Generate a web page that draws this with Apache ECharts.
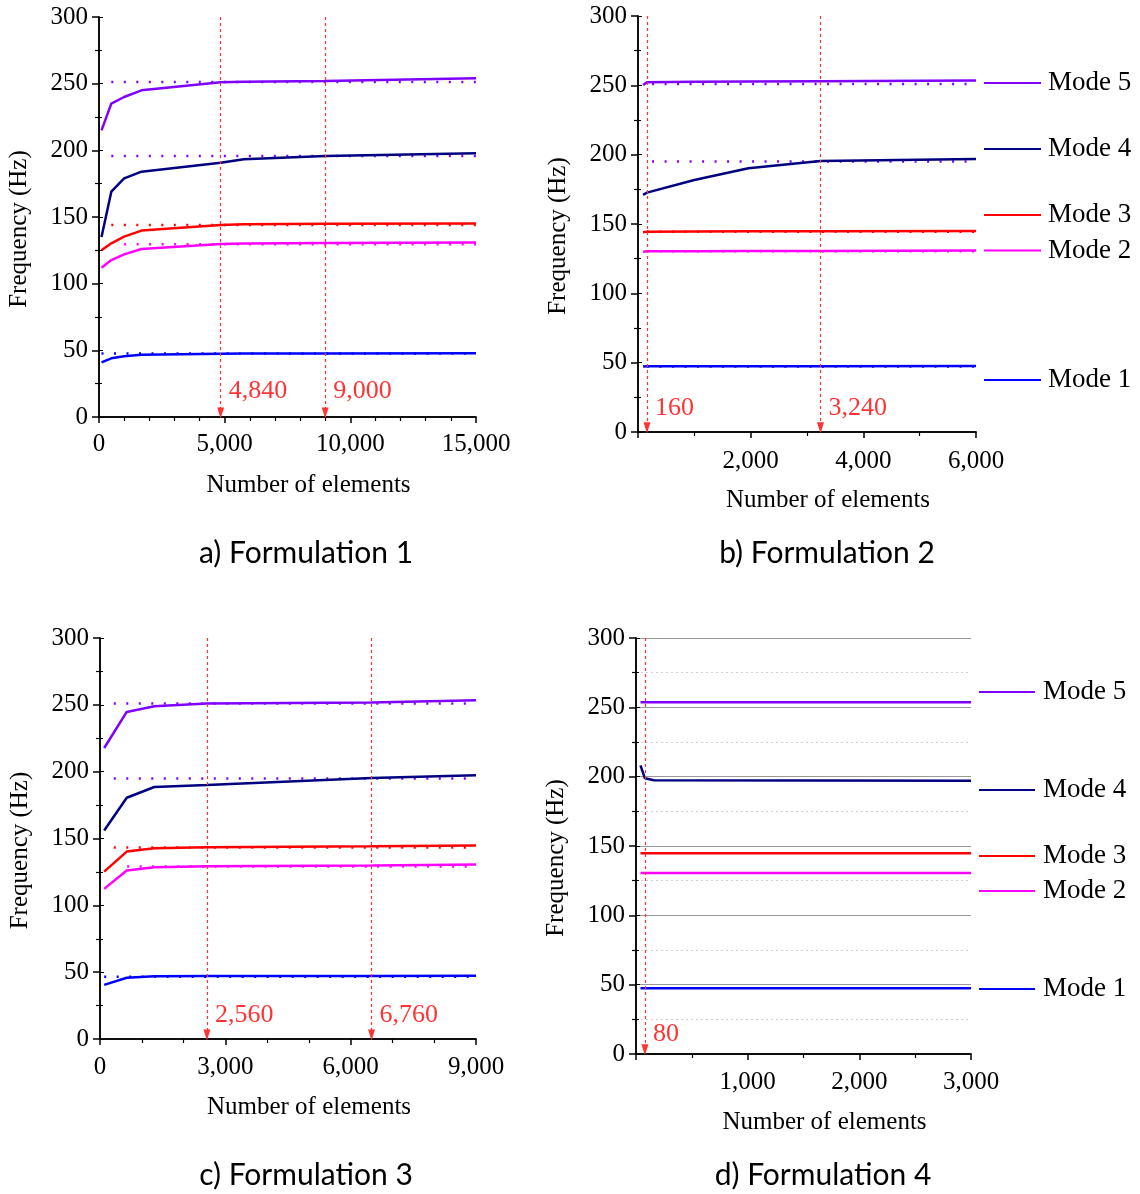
<!DOCTYPE html>
<html><head><meta charset="utf-8">
<script src="https://cdn.jsdelivr.net/npm/echarts@6/dist/echarts.min.js"></script>
<style>html,body{margin:0;padding:0;background:#fff}#c{width:1140px;height:1194px}</style>
</head><body><div id="c"></div>
<script>
// ---------- DATA ----------
const modeNames = ['Mode 1','Mode 2','Mode 3','Mode 4','Mode 5'];
const modeColors = ['#0000FF','#FF00FF','#FF0000','#000080','#8000FF'];
const captions = ['a) Formulation 1','b) Formulation 2','c) Formulation 3','d) Formulation 4'];

// Panel a (Formulation 1)
const aX = [100, 490, 1000, 1690, 4840, 5760, 9000, 15000];
const aMode1 = [41, 44, 45.5, 46.7, 47.5, 47.6, 47.7, 47.8];
const aMode2 = [112, 117.7, 122, 126, 129.8, 130.2, 130.5, 130.8];
const aMode3 = [125, 130.3, 135.3, 139.8, 144, 144.5, 145, 145.2];
const aMode4 = [135, 169, 179, 184, 190.7, 193.3, 195.8, 197.8];
const aMode5 = [215, 235, 240, 245, 251, 251.5, 252, 254];
const aRefStart = [100, 1000, 490, 490, 490];
const aRefValue = [47.7, 129.5, 144, 195.7, 251.3];
const aRefColor = ['#0000FF','#FF00FF','#FF0000','#8000FF','#8000FF'];
const aMarkX = [4840, 9000];
const aMarkLabel = ['4,840', '9,000'];

// Panel b (Formulation 2)
const bX = [90, 160, 1000, 1960, 3240, 6000];
const bMode1 = [47.2, 47.4, 47.5, 47.5, 47.5, 47.6];
const bMode2 = [130, 130.3, 130.4, 130.5, 130.6, 130.8];
const bMode3 = [144, 144.5, 144.6, 144.7, 144.8, 145];
const bMode4 = [171, 172.6, 181.7, 190.2, 195.4, 196.9];
const bMode5 = [250.2, 252.2, 252.5, 252.8, 253, 253.4];
const bRefStart = [160, 160, 160, 250, 250];
const bRefValue = [47.3, 130.3, 144.5, 195, 251];
const bRefColor = ['#0000FF','#FF00FF','#FF0000','#8000FF','#8000FF'];
const bMarkX = [160, 3240];
const bMarkLabel = ['160', '3,240'];

// Panel c (Formulation 3)
const cX = [100, 640, 1300, 2560, 6500, 9000];
const cMode1 = [40.5, 45.8, 47, 47.1, 47.2, 47.3];
const cMode2 = [112.3, 126, 128.5, 129.2, 129.8, 130.5];
const cMode3 = [125.2, 140.2, 142.7, 143.5, 144.2, 144.8];
const cMode4 = [156, 180.5, 188.5, 190, 195.2, 197.3];
const cMode5 = [217.7, 244.7, 249, 251, 251.8, 253.5];
const cRefStart = [100, 650, 330, 330, 330];
const cRefValue = [46.5, 129, 143.3, 194.8, 251];
const cRefColor = ['#0000FF','#FF00FF','#FF0000','#8000FF','#8000FF'];
const cMarkX = [2560, 6500];
const cMarkLabel = ['2,560', '6,760'];

// Panel d (Formulation 4)
const dX = [40, 80, 160, 3000];
const dMode1 = [47.4, 47.4, 47.4, 47.4];
const dMode2 = [130.5, 130.5, 130.5, 130.5];
const dMode3 = [144.7, 144.7, 144.7, 144.7];
const dMode4 = [208.2, 198.8, 197.4, 197.1];
const dMode5 = [253.6, 253.6, 253.6, 253.6];
const dMarkX = [80];
const dMarkLabel = ['80'];

const yTicks = [0, 50, 100, 150, 200, 250, 300];

// ---------- LAYOUT ----------
const serif = 'Liberation Serif';
const grids = [
  {left: 99, top: 17, width: 377, height: 400},
  {left: 638, top: 16, width: 338, height: 416},
  {left: 100, top: 638, width: 376, height: 401},
  {left: 636, top: 638, width: 335, height: 416}
];
const xMax = [15000, 6000, 9000, 3000];
const xInt = [5000, 2000, 3000, 1000];
const xMinorSplit = [5, 2, 3, 2];
const hideZero = [false, true, false, true];
const xLabelMargin = [15, 17, 16, 16];
const panels = [
  {x: aX, modes: [aMode1, aMode2, aMode3, aMode4, aMode5], refS: aRefStart, refV: aRefValue, refC: aRefColor, mx: aMarkX, ml: aMarkLabel, my: 19},
  {x: bX, modes: [bMode1, bMode2, bMode3, bMode4, bMode5], refS: bRefStart, refV: bRefValue, refC: bRefColor, mx: bMarkX, ml: bMarkLabel, my: 17},
  {x: cX, modes: [cMode1, cMode2, cMode3, cMode4, cMode5], refS: cRefStart, refV: cRefValue, refC: cRefColor, mx: cMarkX, ml: cMarkLabel, my: 18},
  {x: dX, modes: [dMode1, dMode2, dMode3, dMode4, dMode5], refS: null, mx: dMarkX, ml: dMarkLabel, my: 14}
];

const xAxes = [], yAxes = [], series = [];
grids.forEach((g, i) => {
  xAxes.push({
    gridIndex: i, type: 'value', min: 0, max: xMax[i], interval: xInt[i],
    name: 'Number of elements', nameLocation: 'middle', nameGap: 56,
    nameTextStyle: {fontFamily: serif, fontSize: 25, color: '#000', padding: [0, 0, 0, 42]},
    axisLine: {lineStyle: {color: '#000', width: 1.5}},
    axisTick: {length: 6, lineStyle: {color: '#000', width: 1.5}},
    minorTick: {show: true, splitNumber: xMinorSplit[i], length: 4, lineStyle: {color: '#000', width: 1.2}},
    splitLine: {show: false},
    axisLabel: {fontFamily: serif, fontSize: 25, color: '#000', margin: xLabelMargin[i],
      formatter: v => (hideZero[i] && v === 0) ? '' : v.toLocaleString('en-US')}
  });
  xAxes.push({
    gridIndex: i, type: 'value', min: 0, max: xMax[i], position: 'top',
    axisLine: {lineStyle: {color: '#000', width: 1.5}}, axisTick: {show: false},
    axisLabel: {show: false}, splitLine: {show: false}
  });
  const isD = i === 3;
  yAxes.push({
    gridIndex: i, type: 'value', min: 0, max: 300, interval: 50,
    name: 'Frequency (Hz)', nameLocation: 'middle', nameGap: 67,
    nameTextStyle: {fontFamily: serif, fontSize: 25, color: '#000', padding: [0, 24, 0, 0]},
    axisLine: {show: true, lineStyle: {color: '#000', width: 1.5}},
    axisTick: {show: true, length: 7, lineStyle: {color: '#000', width: 1.5}},
    minorTick: {show: true, splitNumber: 2, length: 4, lineStyle: {color: '#000', width: 1.2}},
    splitLine: {show: isD, lineStyle: {color: '#999', width: 1}},
    minorSplitLine: {show: isD, lineStyle: {color: '#d0d0d0', width: 1, type: [2, 3]}},
    axisLabel: {fontFamily: serif, fontSize: 25, color: '#000', margin: 11,
      formatter: v => yTicks.includes(v) ? String(v) : ''}
  });
  yAxes.push({
    gridIndex: i, type: 'value', min: 0, max: 300, interval: 50, position: 'right',
    axisLine: {show: true, lineStyle: {color: '#000', width: 1.5}},
    axisTick: {show: true, inside: false, length: 4, lineStyle: {color: '#000', width: 1}},
    minorTick: {show: true, splitNumber: 2, length: 3, lineStyle: {color: '#000', width: 1}},
    axisLabel: {show: false}, splitLine: {show: false}
  });
});

panels.forEach((p, i) => {
  const xi = i * 2, yi = i * 2;
  if (p.refS) {
    p.refV.forEach((v, m) => {
      series.push({
        type: 'line', xAxisIndex: xi, yAxisIndex: yi, symbol: 'none', silent: true, z: 1,
        data: [[p.refS[m], v], [xMax[i], v]],
        lineStyle: {color: p.refC[m], width: 2.5, type: [2, 10.5], cap: 'butt'}
      });
    });
  }
  p.modes.forEach((vals, m) => {
    series.push({
      name: modeNames[m], type: 'line', xAxisIndex: xi, yAxisIndex: yi, symbol: 'none', z: 3,
      data: p.x.map((x, k) => [x, vals[k]]),
      lineStyle: {color: modeColors[m], width: 2.5}
    });
  });
  series.push({
    type: 'line', xAxisIndex: xi, yAxisIndex: yi, symbol: 'none', data: [], silent: true, z: 4,
    markLine: {
      silent: true, animation: false,
      symbol: ['none', 'triangle'], symbolSize: [7, 11],
      lineStyle: {color: '#FF3333', width: 1.2, type: [3, 3]},
      label: {show: false},
      data: p.mx.map(x => [{coord: [x, 300]}, {coord: [x, 3]}])
    }
  });
  series.push({
    type: 'scatter', xAxisIndex: xi, yAxisIndex: yi, symbolSize: 0, silent: true, z: 5,
    data: p.mx.map((x, k) => ({value: [x, p.my], label: {formatter: p.ml[k]}})),
    label: {show: true, position: 'right', distance: 8, fontFamily: serif, fontSize: 26, color: '#FF0000'}
  });
});

const graphics = [];
const legB = {x: 984, x2: 1041, tx: 1048, ys: [380, 250.5, 215, 149, 83]};
const legD = {x: 979, x2: 1035, tx: 1043, ys: [989, 891, 856, 790, 692]};
[legB, legD].forEach(L => {
  modeNames.forEach((n, m) => {
    graphics.push({type: 'line', shape: {x1: L.x, y1: L.ys[m], x2: L.x2, y2: L.ys[m]},
      style: {stroke: modeColors[m], lineWidth: 2.2}});
    graphics.push({type: 'text', x: L.tx, y: L.ys[m], style: {text: n, font: '27px "Liberation Serif"',
      fill: '#000', textVerticalAlign: 'middle', verticalAlign: 'middle'}});
  });
});
const capPos = [[306, 553], [827, 553], [306, 1175], [823, 1175]];
captions.forEach((c, i) => {
  graphics.push({type: 'text', x: capPos[i][0], y: capPos[i][1], style: {text: c,
    font: '30px Lato', fill: '#000', align: 'center', textAlign: 'center',
    verticalAlign: 'middle', textVerticalAlign: 'middle'}});
});

const chart = echarts.init(document.getElementById('c'), null, {renderer: 'canvas'});
chart.setOption({
  animation: false,
  backgroundColor: '#fff',
  grid: grids,
  xAxis: xAxes,
  yAxis: yAxes,
  series: series,
  graphic: graphics
});
</script></body></html>
